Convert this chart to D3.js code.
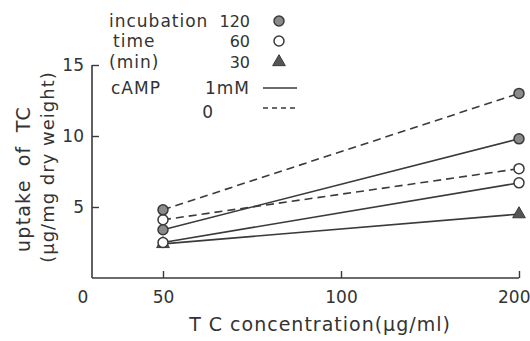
<!DOCTYPE html>
<html>
<head>
<meta charset="utf-8">
<script src="https://cdn.jsdelivr.net/npm/d3@7"></script>
<style>
  body { margin: 0; background: #fff; }
  svg text { font-family: "DejaVu Sans", sans-serif; fill: #333; }
</style>
</head>
<body>
<div id="chart"></div>
<script>
(function () {

  // TC concentration (ug/ml)
  var conc = [50, 200];
  var xTicks = [50, 100, 200];
  var yTicks = [5, 10, 15];

  // uptake of TC (ug/mg dry weight)
  var time120_camp = [3.4, 9.8];
  var time120_none = [4.8, 13.0];
  var time60_camp = [2.5, 6.7];
  var time60_none = [4.1, 7.7];
  var time30_camp = [2.4, 4.5];

  var times = ["120", "60", "30"];
  var campLevels = ["1mM", "0"];

  var series = [
    { time: "30", camp: "1mM", values: time30_camp },
    { time: "60", camp: "1mM", values: time60_camp },
    { time: "60", camp: "0", values: time60_none },
    { time: "120", camp: "1mM", values: time120_camp },
    { time: "120", camp: "0", values: time120_none }
  ];

  var width = 530;
  var height = 341;
  var ink = "#3a3a3a";

  var originX = 92;
  var x = d3.scaleLog().domain([50, 200]).range([163, 519]);
  var y = d3.scaleLinear().domain([0, 15]).range([278, 65]);

  var svg = d3.select("#chart")
    .append("svg")
    .attr("width", width)
    .attr("height", height);

  // x axis, ticks pointing up
  var xAxis = svg.append("g")
    .attr("transform", "translate(0," + y(0) + ")")
    .call(d3.axisBottom(x).tickValues(xTicks).tickFormat(d3.format("d"))
      .tickSize(-7).tickSizeOuter(0).tickPadding(13));
  xAxis.select(".domain").remove();
  xAxis.append("line")
    .attr("x1", originX).attr("x2", x(200))
    .attr("stroke", ink).attr("stroke-width", 1.6);
  xAxis.selectAll(".tick line").attr("stroke", ink).attr("stroke-width", 1.4);
  xAxis.selectAll("text").style("font-size", "17px").style("fill", "#333")
    .attr("text-anchor", function (d) { return d == 200 ? "end" : "middle"; })
    .attr("dx", function (d) { return d == 200 ? 11 : 0; });
  xAxis.append("text")
    .attr("x", originX - 9)
    .attr("y", 13)
    .attr("dy", "0.71em")
    .attr("text-anchor", "middle")
    .style("font-size", "17px")
    .text("0");

  // y axis, ticks pointing right
  var yAxis = svg.append("g")
    .attr("transform", "translate(" + originX + ",0)")
    .call(d3.axisLeft(y).tickValues(yTicks).tickSize(-7).tickSizeOuter(0).tickPadding(8));
  yAxis.select(".domain").remove();
  yAxis.append("line")
    .attr("y1", y(0)).attr("y2", y(15))
    .attr("stroke", ink).attr("stroke-width", 1.6);
  yAxis.selectAll(".tick line").attr("stroke", ink).attr("stroke-width", 1.4);
  yAxis.selectAll("text").style("font-size", "17px").style("fill", "#333");

  // axis titles
  svg.append("text")
    .attr("x", 320)
    .attr("y", 331)
    .attr("text-anchor", "middle")
    .style("font-size", "19px")
    .style("letter-spacing", "1px")
    .text("T C  concentration(\u00b5g/ml)");

  svg.append("text")
    .attr("transform", "translate(30,179) rotate(-90)")
    .attr("text-anchor", "middle")
    .style("font-size", "19px")
    .style("letter-spacing", "1.2px")
    .style("word-spacing", "6px")
    .text("uptake of TC");

  svg.append("text")
    .attr("transform", "translate(54,167) rotate(-90)")
    .attr("text-anchor", "middle")
    .style("font-size", "18px")
    .style("letter-spacing", "1px")
    .text("(\u00b5g/mg dry weight)");

  // lines
  var line = d3.line()
    .x(function (d, i) { return x(conc[i]); })
    .y(function (d) { return y(d); });

  svg.selectAll(".series")
    .data(series)
    .enter()
    .append("path")
    .attr("class", "series")
    .attr("d", function (d) { return line(d.values); })
    .attr("fill", "none")
    .attr("stroke", ink)
    .attr("stroke-width", 1.6)
    .attr("stroke-dasharray", function (d) { return d.camp == "0" ? "8,5" : null; });

  // markers
  function drawMarker(g, time, cx, cy) {
    if (time == "30") {
      g.append("path")
        .attr("d", d3.symbol().type(d3.symbolTriangle).size(70)())
        .attr("transform", "translate(" + cx + "," + cy + ")")
        .attr("fill", "#555")
        .attr("stroke", ink)
        .attr("stroke-width", 1);
    } else {
      g.append("circle")
        .attr("cx", cx)
        .attr("cy", cy)
        .attr("r", 5)
        .attr("fill", time == "120" ? "#8a8a8a" : "#fff")
        .attr("stroke", ink)
        .attr("stroke-width", 1.5);
    }
  }

  var marks = svg.append("g");
  series.forEach(function (s) {
    s.values.forEach(function (v, i) {
      drawMarker(marks, s.time, x(conc[i]), y(v));
    });
  });

  // legend
  var legend = svg.append("g").style("font-size", "17px");
  var timeWords = ["incubation", "time", "(min)"];
  var rowY = [27, 47, 68];
  times.forEach(function (t, i) {
    legend.append("text")
      .attr("x", 109 + (i == 1 ? 4 : 0))
      .attr("y", rowY[i])
      .style("letter-spacing", "1px")
      .text(timeWords[i]);
    legend.append("text")
      .attr("x", 250)
      .attr("y", rowY[i])
      .attr("text-anchor", "end")
      .style("font-size", "16px")
      .text(t);
    drawMarker(legend, t, 279, rowY[i] - 6);
  });

  var campY = [94, 118];
  legend.append("text")
    .attr("x", 111)
    .attr("y", campY[0])
    .style("letter-spacing", "1px")
    .text("cAMP");
  campLevels.forEach(function (c, i) {
    legend.append("text")
      .attr("x", i == 0 ? 250 : 213)
      .attr("y", campY[i])
      .attr("text-anchor", "end")
      .style("letter-spacing", i == 0 ? "1px" : "0px")
      .text(c);
    legend.append("line")
      .attr("x1", 263).attr("x2", 297)
      .attr("y1", campY[i] - 6 - i * 4).attr("y2", campY[i] - 6 - i * 4)
      .attr("stroke", ink)
      .attr("stroke-width", 1.6)
      .attr("stroke-dasharray", c == "0" ? "5,4" : null);
  });

})();
</script>
</body>
</html>
